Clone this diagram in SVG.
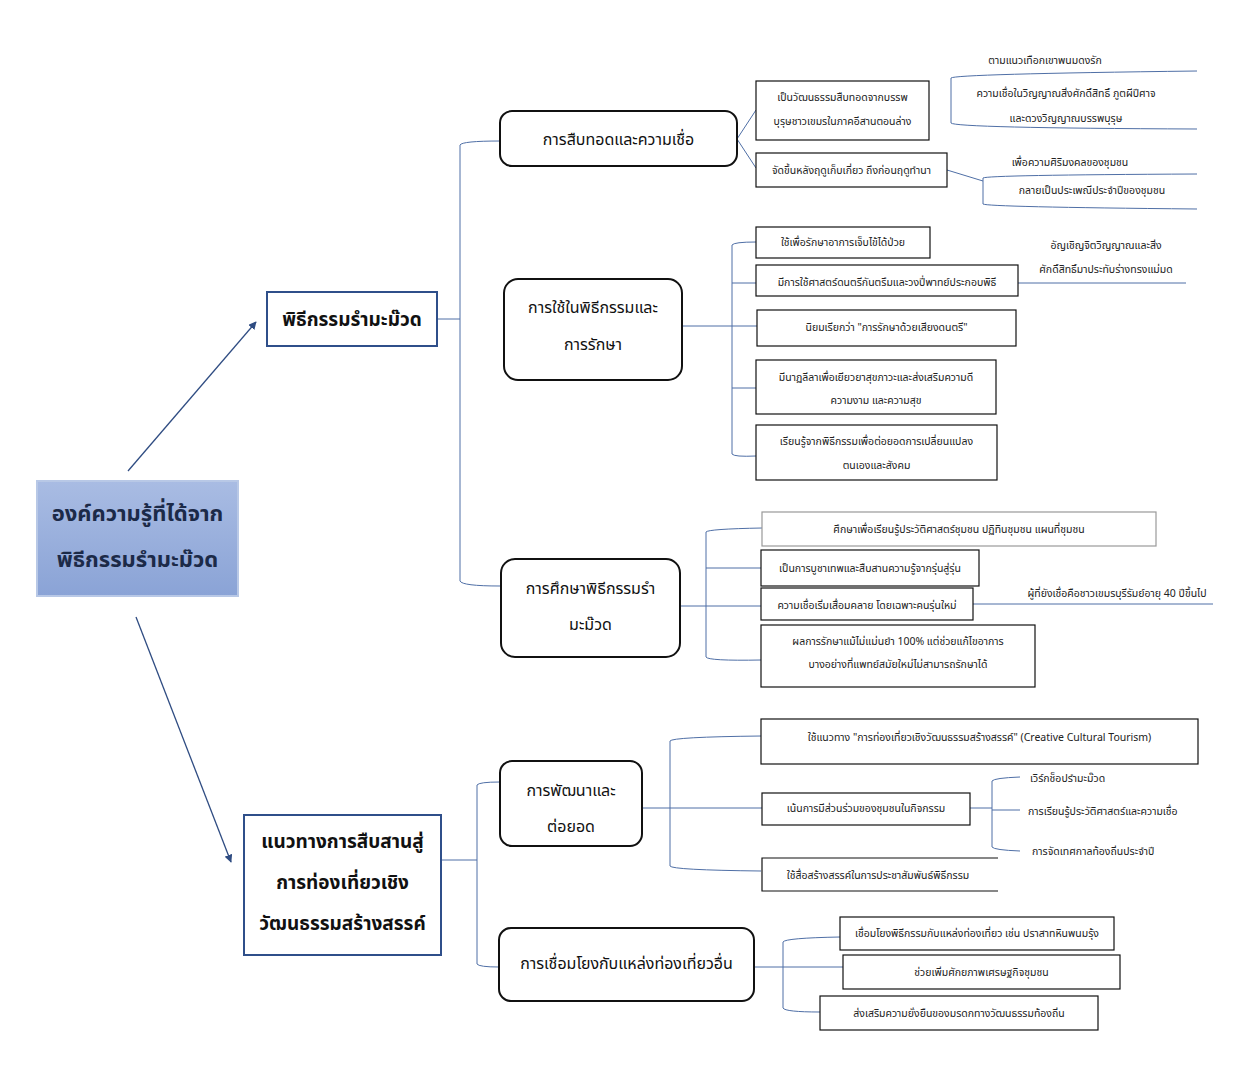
<svg xmlns="http://www.w3.org/2000/svg" width="1252" height="1076" viewBox="0 0 1252 1076">
<defs>
<linearGradient id="rootGrad" x1="0" y1="0" x2="0" y2="1">
<stop offset="0" stop-color="#a9bce3"/>
<stop offset="1" stop-color="#8aa3d6"/>
</linearGradient>
<marker id="arr" viewBox="0 0 10 10" refX="9" refY="5" markerWidth="8" markerHeight="8" orient="auto" markerUnits="userSpaceOnUse">
<path d="M0,0 L10,5 L0,10 z" fill="#2f4c82"/>
</marker>
</defs>
<style>
text{font-family:"Noto Sans Thai","Noto Sans Thai UI","Loma","Garuda","Tahoma","DejaVu Sans",sans-serif;fill:#1a1a1a;text-anchor:middle}
.root{font-size:22px;font-weight:bold;fill:#1c2a48}
.l1{font-size:19px;font-weight:bold;fill:#111}
.l2{font-size:16px;fill:#111}
.s{font-size:10.5px;fill:#222}
.sl{font-size:10.5px;fill:#222;text-anchor:start}
.box{fill:#fff;stroke:#111;stroke-width:1.2}
.gbox{fill:#fff;stroke:#999;stroke-width:1.2}
.rbox{fill:#fff;stroke:#111;stroke-width:2}
.nbox{fill:#fff;stroke:#2f4f8a;stroke-width:2}
.ln{fill:none;stroke:#4f6fa6;stroke-width:1}
.bl{fill:none;stroke:#4f6fa6;stroke-width:1}
.ar{fill:none;stroke:#2f4c82;stroke-width:1.3}
</style>
<rect width="1252" height="1076" fill="#fff"/>

<g id="connectors">
<line class="ar" x1="128" y1="471" x2="256" y2="322" marker-end="url(#arr)"/>
<line class="ar" x1="136" y1="617" x2="231" y2="862" marker-end="url(#arr)"/>
<!-- from A -->
<path class="ln" d="M437,319 H460"/>
<path class="ln" d="M500,141 Q462,141 460,145 V581 Q462,586 500,586"/>
<!-- from B -->
<path class="ln" d="M441,860 H477"/>
<path class="ln" d="M500,782 Q479,782 477,785 V964 Q479,967 499,967"/>
<!-- C1 -->
<path class="ln" d="M737,139 L756,110 M737,139 L756,168"/>
<path class="ln" d="M947,170 L983,181"/>
<!-- D1 bracket -->
<path class="bl" d="M1197,71 Q955,74 951,78 V123 Q955,128 1197,129"/>
<!-- D2 bracket -->
<path class="bl" d="M1197,174 Q987,175 983,178 V204 Q987,207 1197,209"/>
<!-- C2 -->
<path class="ln" d="M682,326 H757"/>
<path class="ln" d="M756,242 Q734,242 732,245 V454 Q734,457 756,456"/>
<path class="ln" d="M732,283 H756 M732,388 H756"/>
<path class="ln" d="M1018,283 H1186"/>
<!-- C3 -->
<path class="ln" d="M680,606 H761"/>
<path class="ln" d="M762,528 Q708,529 706,532 V657 Q708,661 761,660"/>
<path class="ln" d="M706,568 H761"/>
<path class="ln" d="M973,604 H1213"/>
<!-- C4 -->
<path class="ln" d="M642,808 H762"/>
<path class="ln" d="M761,736 Q672,737 670,741 V866 Q672,870 761,871"/>
<path class="ln" d="M970,808 H992"/>
<path class="ln" d="M1020,777 Q994,778 992,781 V847 Q994,850 1020,851 M992,810 H1020"/>
<!-- C5 -->
<path class="ln" d="M754,967 H843"/>
<path class="ln" d="M840,937 Q785,938 783,942 V1008 Q785,1012 820,1012"/>
</g>

<g id="root">
<rect x="37" y="481" width="201" height="115" fill="url(#rootGrad)" stroke="#b8c8e6" stroke-width="2"/>
<text class="root" x="137.5" y="521">องค์ความรู้ที่ได้จาก</text>
<text class="root" x="137.5" y="567">พิธีกรรมรำมะม๊วด</text>
</g>

<g id="nodeA">
<rect class="nbox" x="267" y="292" width="170" height="54"/>
<text class="l1" x="352" y="326">พิธีกรรมรำมะม๊วด</text>
</g>

<g id="nodeB">
<rect class="nbox" x="244" y="815" width="197" height="140"/>
<text class="l1" x="342.5" y="848">แนวทางการสืบสานสู่</text>
<text class="l1" x="342.5" y="889">การท่องเที่ยวเชิง</text>
<text class="l1" x="342.5" y="930">วัฒนธรรมสร้างสรรค์</text>
</g>

<g id="c1">
<rect class="rbox" x="500" y="111" width="237" height="55" rx="12"/>
<text class="l2" x="618.5" y="145">การสืบทอดและความเชื่อ</text>
</g>
<g id="c2">
<rect class="rbox" x="504" y="279" width="178" height="101" rx="14"/>
<text class="l2" x="593" y="313">การใช้ในพิธีกรรมและ</text>
<text class="l2" x="593" y="350">การรักษา</text>
</g>
<g id="c3">
<rect class="rbox" x="501" y="559" width="179" height="98" rx="14"/>
<text class="l2" x="590.5" y="594">การศึกษาพิธีกรรมรำ</text>
<text class="l2" x="590.5" y="630">มะม๊วด</text>
</g>
<g id="c4">
<rect class="rbox" x="500" y="761" width="142" height="85" rx="12"/>
<text class="l2" x="571" y="796">การพัฒนาและ</text>
<text class="l2" x="571" y="832">ต่อยอด</text>
</g>
<g id="c5">
<rect class="rbox" x="499" y="928" width="255" height="73" rx="12"/>
<text class="l2" x="626.5" y="969">การเชื่อมโยงกับแหล่งท่องเที่ยวอื่น</text>
</g>

<g id="d1">
<rect class="box" x="756" y="81" width="173" height="59"/>
<text class="s" x="842.5" y="101">เป็นวัฒนธรรมสืบทอดจากบรรพ</text>
<text class="s" x="842.5" y="125">บุรุษชาวเขมรในภาคอีสานตอนล่าง</text>
</g>
<g id="d1a">
<text class="s" x="1045" y="64">ตามแนวเทือกเขาพนมดงรัก</text>
<text class="s" x="1066" y="97">ความเชื่อในวิญญาณสิ่งศักดิ์สิทธิ์ ภูตผีปีศาจ</text>
<text class="s" x="1066" y="122">และดวงวิญญาณบรรพบุรุษ</text>
</g>
<g id="d2">
<rect class="box" x="756" y="153" width="191" height="34"/>
<text class="s" x="851.5" y="174">จัดขึ้นหลังฤดูเก็บเกี่ยว ถึงก่อนฤดูทำนา</text>
</g>
<g id="d2a">
<text class="s" x="1070" y="166">เพื่อความศิริมงคลของชุมชน</text>
<text class="s" x="1092" y="194">กลายเป็นประเพณีประจำปีของชุมชน</text>
</g>

<g id="e1">
<rect class="box" x="756" y="227" width="174" height="31"/>
<text class="s" x="843" y="246">ใช้เพื่อรักษาอาการเจ็บไข้ได้ป่วย</text>
</g>
<g id="e2">
<rect class="box" x="756" y="265" width="262" height="31"/>
<text class="s" x="887" y="286">มีการใช้ศาสตร์ดนตรีกันตรึมและวงปี่พาทย์ประกอบพิธี</text>
</g>
<g id="e2a">
<text class="s" x="1106" y="249">อัญเชิญจิตวิญญาณและสิ่ง</text>
<text class="s" x="1106" y="273">ศักดิ์สิทธิ์มาประทับร่างทรงแม่มด</text>
</g>
<g id="e3">
<rect class="box" x="757" y="310" width="259" height="36"/>
<text class="s" x="886.5" y="331">นิยมเรียกว่า "การรักษาด้วยเสียงดนตรี"</text>
</g>
<g id="e4">
<rect class="box" x="756" y="360" width="240" height="54"/>
<text class="s" x="876" y="381">มีนาฏลีลาเพื่อเยียวยาสุขภาวะและส่งเสริมความดี</text>
<text class="s" x="876" y="404">ความงาม และความสุข</text>
</g>
<g id="e5">
<rect class="box" x="756" y="425" width="241" height="55"/>
<text class="s" x="876.5" y="445">เรียนรู้จากพิธีกรรมเพื่อต่อยอดการเปลี่ยนแปลง</text>
<text class="s" x="876.5" y="469">ตนเองและสังคม</text>
</g>

<g id="f1">
<rect class="gbox" x="762" y="512" width="394" height="34"/>
<text class="s" x="959" y="533">ศึกษาเพื่อเรียนรู้ประวัติศาสตร์ชุมชน ปฏิทินชุมชน แผนที่ชุมชน</text>
</g>
<g id="f2">
<rect class="box" x="761" y="550" width="218" height="36"/>
<text class="s" x="870" y="572">เป็นการบูชาเทพและสืบสานความรู้จากรุ่นสู่รุ่น</text>
</g>
<g id="f3">
<rect class="box" x="761" y="588" width="212" height="32"/>
<text class="s" x="867" y="609">ความเชื่อเริ่มเสื่อมคลาย โดยเฉพาะคนรุ่นใหม่</text>
</g>
<g id="f3a">
<text class="s" x="1117" y="597">ผู้ที่ยังเชื่อคือชาวเขมรบุรีรัมย์อายุ 40 ปีขึ้นไป</text>
</g>
<g id="f4">
<rect class="box" x="761" y="625" width="274" height="62"/>
<text class="s" x="898" y="645">ผลการรักษาแม้ไม่แม่นยำ 100% แต่ช่วยแก้ไขอาการ</text>
<text class="s" x="898" y="668">บางอย่างที่แพทย์สมัยใหม่ไม่สามารถรักษาได้</text>
</g>

<g id="g1">
<rect class="box" x="761" y="719" width="437" height="45"/>
<text class="s" x="979.5" y="741">ใช้แนวทาง "การท่องเที่ยวเชิงวัฒนธรรมสร้างสรรค์" (Creative Cultural Tourism)</text>
</g>
<g id="g2">
<rect class="box" x="762" y="793" width="208" height="32"/>
<text class="s" x="866" y="812">เน้นการมีส่วนร่วมของชุมชนในกิจกรรม</text>
</g>
<g id="g2a">
<text class="sl" x="1030" y="782">เวิร์กช็อปรำมะม๊วด</text>
<text class="sl" x="1028" y="815">การเรียนรู้ประวัติศาสตร์และความเชื่อ</text>
<text class="sl" x="1032" y="855">การจัดเทศกาลท้องถิ่นประจำปี</text>
</g>
<g id="g3">
<path class="box" d="M998,858 H762 V891 H998"/>
<text class="s" x="878" y="879">ใช้สื่อสร้างสรรค์ในการประชาสัมพันธ์พิธีกรรม</text>
</g>

<g id="h1">
<rect class="box" x="840" y="917" width="274" height="33"/>
<text class="s" x="977" y="937">เชื่อมโยงพิธีกรรมกับแหล่งท่องเที่ยว เช่น ปราสาทหินพนมรุ้ง</text>
</g>
<g id="h2">
<rect class="box" x="843" y="955" width="277" height="34"/>
<text class="s" x="981.5" y="976">ช่วยเพิ่มศักยภาพเศรษฐกิจชุมชน</text>
</g>
<g id="h3">
<rect class="box" x="820" y="996" width="278" height="34"/>
<text class="s" x="959" y="1017">ส่งเสริมความยั่งยืนของมรดกทางวัฒนธรรมท้องถิ่น</text>
</g>
</svg>
